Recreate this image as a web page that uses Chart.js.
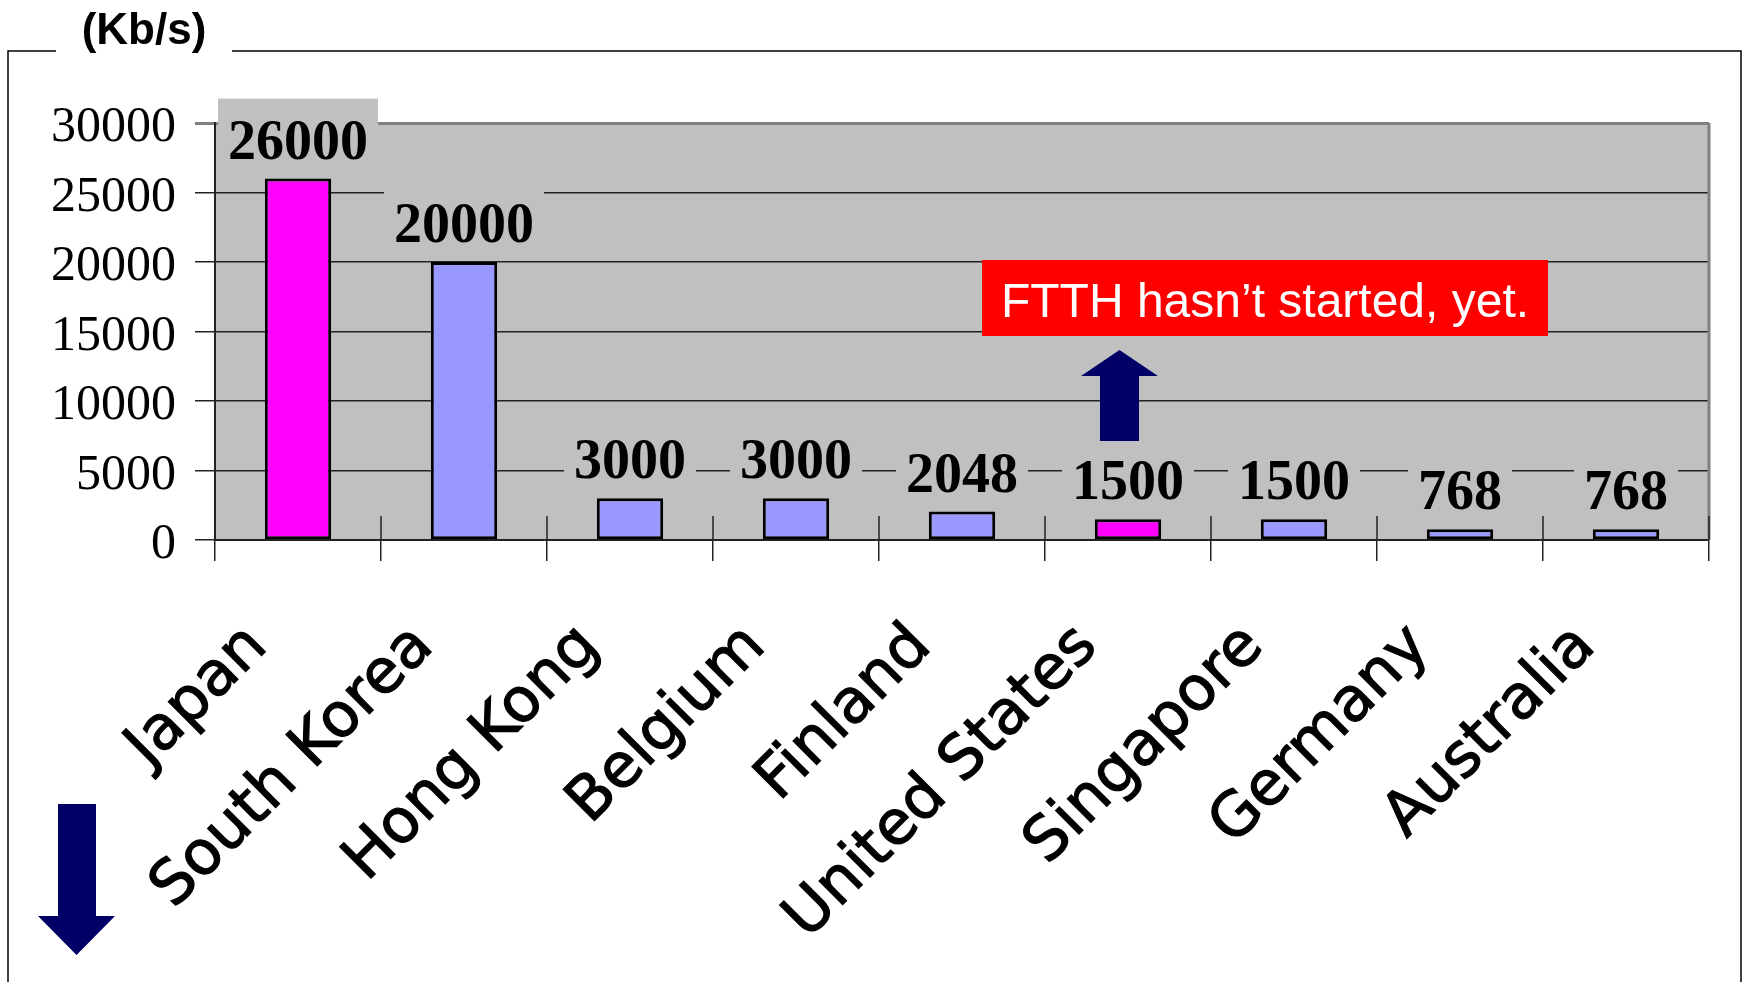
<!DOCTYPE html>
<html>
<head>
<meta charset="utf-8">
<script src="https://cdn.jsdelivr.net/npm/chart.js@4.4.1/dist/chart.umd.min.js"></script>
<style>
    html, body { margin: 0; padding: 0; background: #fff; }
    canvas { display: block; }
</style>
</head>
<body>
<canvas id="barChart" width="1748" height="982"></canvas>
<script>
const ctx = document.getElementById("barChart").getContext("2d");

// dati (Kb/s)
const paesi = ["Japan", "South Korea", "Hong Kong", "Belgium", "Finland",
               "United States", "Singapore", "Germany", "Australia"];
const velocita = [26000, 20000, 3000, 3000, 2048, 1500, 1500, 768, 768];
const evidenziati = ["Japan", "United States"];
const tickY = [0, 5000, 10000, 15000, 20000, 25000, 30000];

const colori = paesi.map(p => evidenziati.includes(p) ? "#FF00FF" : "#9999FF");

const GRIGIO = "#C0C0C0";
const BLU = "#000066";

//! sfondo, cornice e titolo
const sfondo = {
    id: "sfondo",
    beforeDraw(chart) {
        const c = chart.ctx;
        const a = chart.chartArea;
        c.save();
        c.fillStyle = "#fff";
        c.fillRect(0, 0, chart.width, chart.height);
        c.fillStyle = GRIGIO;
        c.fillRect(a.left, a.top, a.right - a.left, a.bottom - a.top);

        c.strokeStyle = "#000";
        c.lineWidth = 1.5;
        c.beginPath();
        c.moveTo(56, 51); c.lineTo(8, 51); c.lineTo(8, 982);
        c.moveTo(232, 51); c.lineTo(1741, 51); c.lineTo(1741, 982);
        c.stroke();

        c.fillStyle = "#000";
        c.font = "bold 44px 'Liberation Sans'";
        c.textAlign = "center";
        c.textBaseline = "middle";
        c.fillText("(Kb/s)", 144, 32);
        c.restore();
    }
};

//? etichette sopra le barre con il fondo grigio che copre la griglia
const etichette = {
    id: "etichette",
    afterDatasetsDraw(chart) {
        const c = chart.ctx;
        const meta = chart.getDatasetMeta(0);
        c.save();
        c.font = "bold 56px 'Liberation Serif'";
        c.textAlign = "center";
        c.textBaseline = "alphabetic";
        meta.data.forEach((bar, i) => {
            const testo = String(velocita[i]);
            const w = c.measureText(testo).width;
            c.fillStyle = GRIGIO;
            c.fillRect(bar.x - w / 2 - 10, bar.y - 80, w + 20, 76);
            c.fillStyle = "#000";
            c.fillText(testo, bar.x, bar.y - 20);
        });
        c.restore();
    }
};

// bordo destro, tacche interne, riquadro rosso e frecce
const extra = {
    id: "extra",
    afterDraw(chart) {
        const c = chart.ctx;
        const a = chart.chartArea;
        const x = chart.scales.x;
        c.save();

        c.strokeStyle = "#808080";
        c.lineWidth = 3;
        c.beginPath();
        c.moveTo(a.right, a.top);
        c.lineTo(a.right, a.bottom);
        c.stroke();

        const passo = (a.right - a.left) / paesi.length;
        c.strokeStyle = "#222";
        c.lineWidth = 1.5;
        c.beginPath();
        for (let i = 0; i <= paesi.length; i++) {
            const px = x.getPixelForValue(i) - passo / 2;
            c.moveTo(px, a.bottom);
            c.lineTo(px, a.bottom - 24);
        }
        c.stroke();

        c.fillStyle = "#FF0000";
        c.fillRect(982, 260, 566, 76);
        c.fillStyle = "#fff";
        c.font = "48px 'Liberation Sans'";
        c.textAlign = "center";
        c.textBaseline = "alphabetic";
        c.fillText("FTTH hasn\u2019t started, yet.", 1265, 317);

        c.fillStyle = BLU;
        c.beginPath();
        c.moveTo(1119.5, 350);
        c.lineTo(1158, 376); c.lineTo(1139, 376); c.lineTo(1139, 441);
        c.lineTo(1100, 441); c.lineTo(1100, 376); c.lineTo(1081, 376);
        c.closePath();
        c.fill();

        c.beginPath();
        c.moveTo(58, 804); c.lineTo(96, 804); c.lineTo(96, 916);
        c.lineTo(115, 916); c.lineTo(76.5, 955); c.lineTo(38, 916);
        c.lineTo(58, 916);
        c.closePath();
        c.fill();
        c.restore();
    }
};

const chart = new Chart(ctx,
    {
        type: "bar",
        data:
        {
            labels: paesi,
            datasets:
                [
                    {
                        label: "Kb/s",
                        data: velocita,
                        backgroundColor: colori,
                        borderColor: "#000",
                        borderWidth: 3,
                        borderSkipped: false,
                        barPercentage: 0.4,
                        categoryPercentage: 1.0
                    }
                ]
        },
        options:
        {
            responsive: false,
            animation: false,
            layout: { padding: { top: 123, right: 39, left: 0, bottom: 0 } },
            plugins:
            {
                legend: { display: false },
                tooltip: { enabled: false }
            },
            scales:
            {
                x:
                {
                    afterFit(s) { s.height = 442; },
                    grid:
                    {
                        offset: true,
                        drawOnChartArea: false,
                        tickLength: 21,
                        color: "#222",
                        lineWidth: 1.5
                    },
                    border: { color: "#222", width: 2 },
                    ticks:
                    {
                        autoSkip: false,
                        minRotation: 45,
                        maxRotation: 45,
                        padding: 50,
                        labelOffset: -40,
                        color: "#000",
                        textStrokeColor: "#000",
                        textStrokeWidth: 1.2,
                        font: { family: "'DejaVu Sans'", size: 61 }
                    }
                },
                y:
                {
                    min: tickY[0],
                    max: tickY[tickY.length - 1],
                    afterFit(s) { s.width = 215; },
                    afterBuildTicks(s) { s.ticks = tickY.map(v => ({ value: v })); },
                    grid:
                    {
                        tickLength: 20,
                        color: c => c.tick && c.tick.value === 30000 ? "#808080" : "#222",
                        lineWidth: c => c.tick && c.tick.value === 30000 ? 3 : 1.5
                    },
                    border: { color: "#222", width: 2 },
                    ticks:
                    {
                        padding: 19,
                        labelOffset: 5,
                        color: "#000",
                        callback: v => String(v),
                        font: { family: "'Liberation Serif'", size: 50 }
                    }
                }
            }
        },
        plugins: [sfondo, etichette, extra]
    });
</script>
</body>
</html>
